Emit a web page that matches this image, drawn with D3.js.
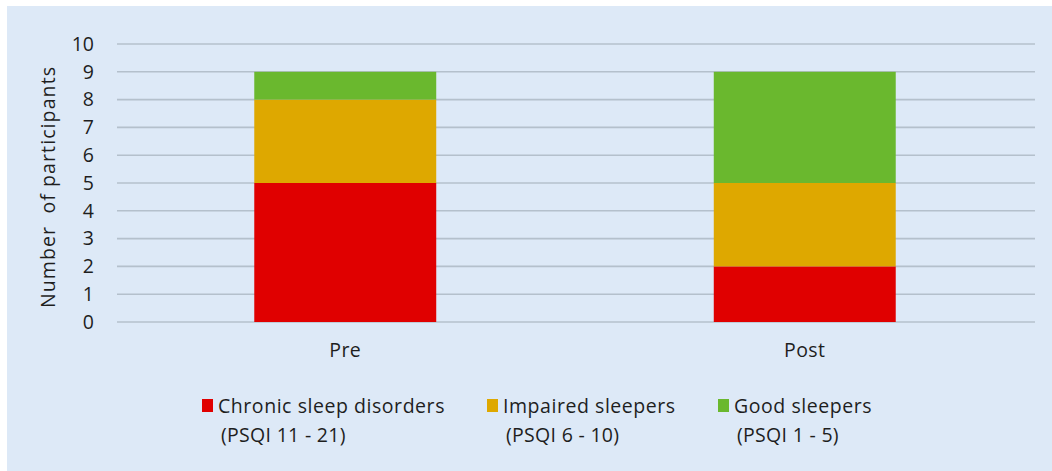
<!DOCTYPE html>
<html><head><meta charset="utf-8">
<script src="https://cdn.jsdelivr.net/npm/d3@7"></script>
<style>body{margin:0;background:#fff}svg{display:block}</style>
</head><body>
<svg id="c" width="1052" height="471"></svg>
<script>
const categories = ["Pre", "Post"];
const seriesNames = ["Chronic sleep disorders", "Impaired sleepers", "Good sleepers"];
const seriesSub = ["(PSQI 11 - 21)", "(PSQI 6 - 10)", "(PSQI 1 - 5)"];
const chronic = [5, 2];
const impaired = [3, 3];
const good = [1, 4];
const yTicks = [0,1,2,3,4,5,6,7,8,9,10];
const colors = ["#e00000", "#dea800", "#6ab82e"];

const svg = d3.select("#c");
const font = "'Open Sans', sans-serif";
const fs = 19.5;
svg.append("rect").attr("x",7).attr("y",6).attr("width",1045).attr("height",465).attr("fill","#dde9f7");

const m = {l:117, r:1035, t:44, b:322};
const x = d3.scaleBand().domain(categories).range([115.5, 1034.5]).paddingInner(0.604).paddingOuter(0.302);
const y = d3.scaleLinear().domain([0,10]).range([m.b, m.t]);

// grid
svg.append("g").selectAll("line").data(yTicks).join("line")
  .attr("x1", m.l).attr("x2", m.r).attr("y1", d=>y(d)).attr("y2", d=>y(d))
  .attr("stroke", "#b4c0cc").attr("stroke-width", 1.6);

const table = categories.map((c,i)=>({cat:c, s0:chronic[i], s1:impaired[i], s2:good[i]}));
const stack = d3.stack().keys(["s0","s1","s2"])(table);
svg.append("g").selectAll("g").data(stack).join("g").attr("fill",(d,i)=>colors[i])
  .selectAll("rect").data(d=>d).join("rect")
  .attr("x", d=>x(d.data.cat)).attr("width", x.bandwidth())
  .attr("y", d=>y(d[1])).attr("height", d=>y(d[0])-y(d[1]));

// y axis
const ya = svg.append("g").attr("transform",`translate(${m.l},0)`)
  .call(d3.axisLeft(y).tickValues(yTicks).tickSize(0).tickPadding(23));
ya.select(".domain").remove();
ya.selectAll("text").attr("font-family",font).attr("font-size",fs).attr("fill","#1e1e1e");

// x axis
const xa = svg.append("g").attr("transform",`translate(0,${m.b})`)
  .call(d3.axisBottom(x).tickSize(0).tickPadding(21));
xa.select(".domain").remove();
xa.selectAll("text").attr("font-family",font).attr("font-size",fs).attr("fill","#1e1e1e").attr("letter-spacing",0.4);

svg.append("text").attr("transform","translate(55,187) rotate(-90)")
  .attr("text-anchor","middle").attr("font-family",font).attr("font-size",fs).attr("fill","#1e1e1e")
  .attr("letter-spacing",1.1).attr("xml:space","preserve").text("Number  of participants");

// legend
const lx = [202, 487, 718];
const lg = svg.append("g").selectAll("g").data(seriesNames).join("g")
  .attr("transform",(d,i)=>`translate(${lx[i]},0)`);
lg.append("rect").attr("x",0).attr("y",399).attr("width",11).attr("height",13).attr("fill",(d,i)=>colors[i]);
lg.append("text").attr("x",16).attr("y",413).attr("font-family",font).attr("font-size",fs).attr("fill","#1e1e1e").attr("letter-spacing",0.55).text(d=>d);
lg.append("text").attr("x",19).attr("y",442).attr("font-family",font).attr("font-size",fs).attr("fill","#1e1e1e").attr("letter-spacing",0.3).text((d,i)=>seriesSub[i]);
</script>
</body></html>
